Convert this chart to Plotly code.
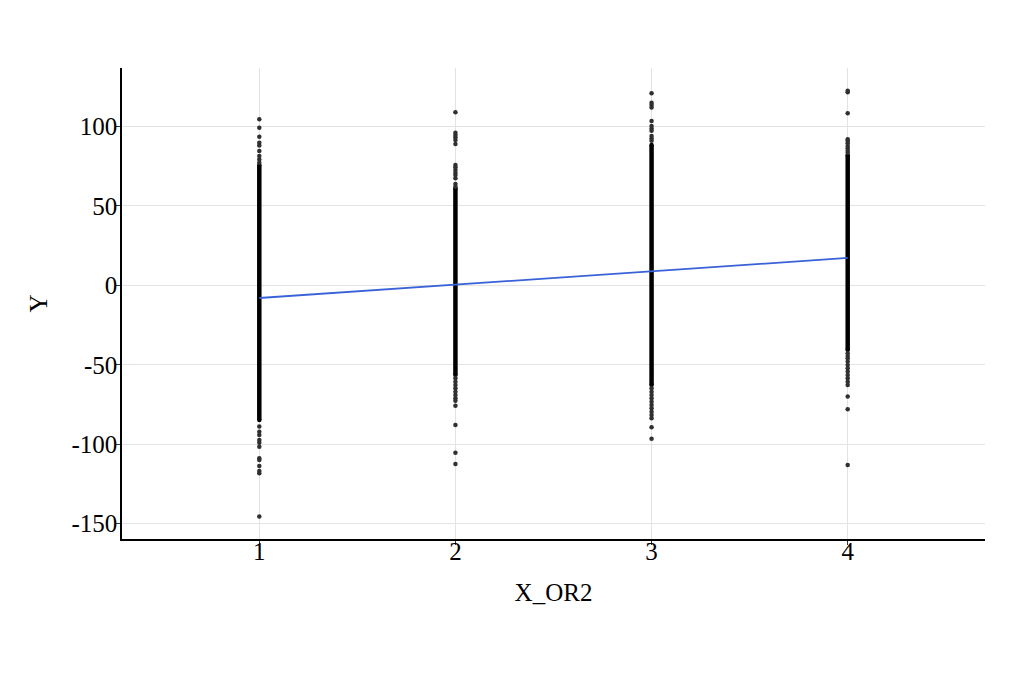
import plotly.graph_objects as go

# values
x_levels = [1, 2, 3, 4]

# continuous dense band of points for each column (low / high end)
dense_lo = [-84.7, -56.4, -62.7, -40.7]
dense_hi = [75.7, 61.0, 88.2, 81.9]

# separate points outside the dense band
pts_x1 = [104.4, 99.1, 93.5, 89.7, 88.0, 84.5, 81.3, 79.2, 77.1,
          -88.9, -92.1, -94.2, -97.3, -99.0, -101.5, -108.8, -109.9, -113.6, -116.8, -118.2, -145.5]
pts_x2 = [108.8, 96.0, 94.5, 93.1, 91.4, 88.9, 75.7, 74.2, 72.5, 70.8, 69.4, 67.3, 63.7, 62.0,
          -58.5, -60.6, -62.7, -64.8, -66.9, -69.0, -71.1, -72.6, -75.7, -87.9, -105.3, -112.4]
pts_x3 = [120.8, 114.9, 113.4, 111.9, 103.3, 100.2, 98.7, 97.2, 93.9, 92.4, 90.9,
          -64.8, -66.9, -69.0, -71.1, -73.2, -75.3, -77.4, -79.5, -81.6, -83.6, -89.3, -96.5]
pts_x4 = [122.4, 121.4, 108.2, 91.8, 90.8, 89.3, 87.6, 86.2, 84.7, 83.4,
          -42.8, -44.5, -45.9, -48.0, -50.1, -52.2, -54.3, -56.4, -58.5, -60.6, -62.7, -70.0, -78.0, -113.0]

# fitted line end points
fit_x = [1, 4]
fit_y = [-8.0, 17.2]

y_ticks = [-150, -100, -50, 0, 50, 100]
y_labels = ['-150', '-100', '-50', '0', '50', '100']

fig = go.Figure()

#dense bands:
for xv, lo, hi in zip(x_levels, dense_lo, dense_hi):
    fig.add_trace(go.Scatter(x=[xv, xv], y=[lo, hi], mode='lines+markers',
                             line=dict(color='black', width=4.5),
                             marker=dict(color='black', size=4.5),
                             showlegend=False, hoverinfo='skip'))

#loose points:
for xv, pts in zip(x_levels, [pts_x1, pts_x2, pts_x3, pts_x4]):
    fig.add_trace(go.Scatter(x=[xv] * len(pts), y=pts, mode='markers',
                             marker=dict(color='#303030', size=4.5),
                             showlegend=False))

#regression line:
fig.add_trace(go.Scatter(x=fit_x, y=fit_y, mode='lines',
                         line=dict(color='#3a62d8', width=1.8), showlegend=False))

font = dict(family='Liberation Serif', size=25, color='black')

fig.update_layout(width=1024, height=682, plot_bgcolor='white', paper_bgcolor='white',
                  margin=dict(l=114, r=47, t=60, b=151), font=font)
fig.update_xaxes(range=[0.3, 4.7], tickvals=x_levels, showgrid=True, gridcolor='#e3e3e3', gridwidth=1,
                 showline=True, linecolor='black', linewidth=1.5, ticks='outside', ticklen=4,
                 tickcolor='#333333', zeroline=False, automargin=False, tickfont=font,
                 ticklabelstandoff=-15,
                 title=dict(text='X_OR2', font=font, standoff=20))
fig.update_yaxes(range=[-159.6, 136.7], tickvals=y_ticks, ticktext=y_labels, showgrid=True,
                 gridcolor='#e3e3e3', gridwidth=1,
                 showline=True, linecolor='black', linewidth=1.5, ticks='outside', ticklen=4,
                 tickcolor='#333333', zeroline=False, automargin=False, tickfont=font,
                 ticklabelstandoff=-6,
                 title=dict(text='Y', font=font, standoff=17))

fig.write_html("out.html")
